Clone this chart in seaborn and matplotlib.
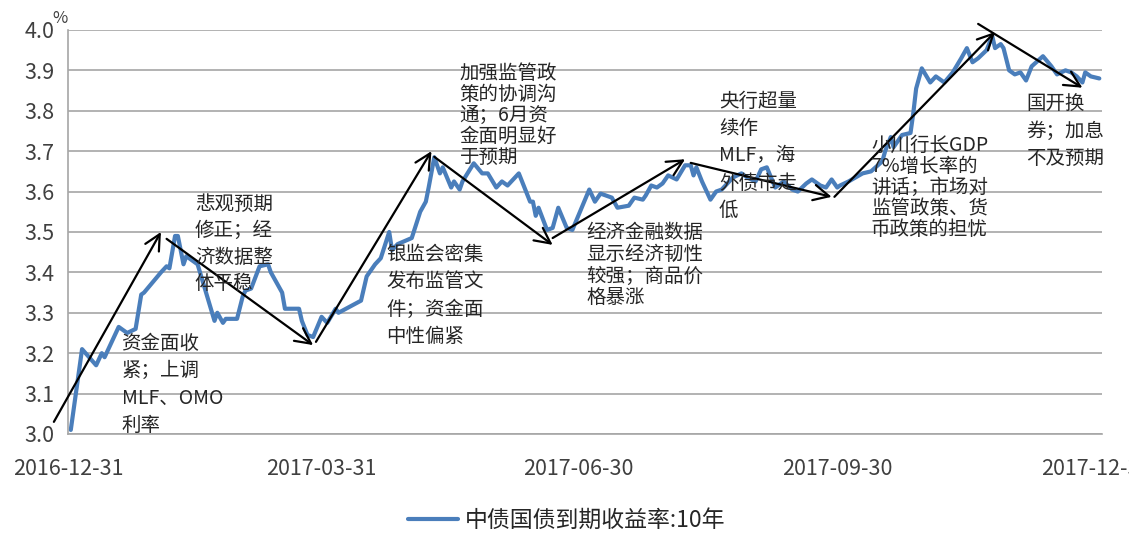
import pandas as pd
import numpy as np
import matplotlib
matplotlib.use('Agg')
import matplotlib.pyplot as plt
import matplotlib.dates as mdates
from matplotlib.ticker import MultipleLocator, FormatStrFormatter
import seaborn as sns

# 中债国债到期收益率:10年
dates = ['2017-01-01', '2017-01-05', '2017-01-10', '2017-01-12', '2017-01-13', '2017-01-18',
         '2017-01-21', '2017-01-24', '2017-01-26', '2017-01-27', '2017-02-02', '2017-02-04',
         '2017-02-05', '2017-02-07', '2017-02-08', '2017-02-10', '2017-02-11', '2017-02-15',
         '2017-02-18', '2017-02-21', '2017-02-22', '2017-02-24', '2017-02-25', '2017-03-01',
         '2017-03-03', '2017-03-04', '2017-03-06', '2017-03-09', '2017-03-12', '2017-03-13',
         '2017-03-17', '2017-03-18', '2017-03-23', '2017-03-24', '2017-03-26', '2017-03-28',
         '2017-03-31', '2017-04-02', '2017-04-05', '2017-04-06', '2017-04-10', '2017-04-14',
         '2017-04-16', '2017-04-19', '2017-04-21', '2017-04-24', '2017-04-25', '2017-04-27',
         '2017-05-02', '2017-05-05', '2017-05-07', '2017-05-08', '2017-05-10', '2017-05-12',
         '2017-05-13', '2017-05-16', '2017-05-17', '2017-05-19', '2017-05-20', '2017-05-24',
         '2017-05-27', '2017-05-29', '2017-06-01', '2017-06-03', '2017-06-05', '2017-06-09',
         '2017-06-13', '2017-06-14', '2017-06-15', '2017-06-16', '2017-06-19', '2017-06-21',
         '2017-06-23', '2017-06-26', '2017-06-28', '2017-07-01', '2017-07-04', '2017-07-06',
         '2017-07-08', '2017-07-12', '2017-07-14', '2017-07-18', '2017-07-20', '2017-07-23',
         '2017-07-24', '2017-07-26', '2017-07-28', '2017-07-30', '2017-08-01', '2017-08-04',
         '2017-08-07', '2017-08-09', '2017-08-10', '2017-08-11', '2017-08-13', '2017-08-16',
         '2017-08-18', '2017-08-20', '2017-08-24', '2017-08-27', '2017-08-29', '2017-09-01',
         '2017-09-03', '2017-09-05', '2017-09-08', '2017-09-11', '2017-09-14', '2017-09-16',
         '2017-09-19', '2017-09-21', '2017-09-24', '2017-09-26', '2017-09-28', '2017-09-30',
         '2017-10-01', '2017-10-04', '2017-10-09', '2017-10-12', '2017-10-16', '2017-10-17',
         '2017-10-19', '2017-10-20', '2017-10-23', '2017-10-26', '2017-10-27', '2017-10-28',
         '2017-10-30', '2017-11-02', '2017-11-04', '2017-11-07', '2017-11-10', '2017-11-13',
         '2017-11-15', '2017-11-17', '2017-11-19', '2017-11-22', '2017-11-24', '2017-11-25',
         '2017-11-27', '2017-11-28', '2017-11-30', '2017-12-02', '2017-12-04', '2017-12-06',
         '2017-12-08', '2017-12-12', '2017-12-15', '2017-12-17', '2017-12-20', '2017-12-22',
         '2017-12-24', '2017-12-26', '2017-12-27', '2017-12-29', '2018-01-01']
yields = [3.01, 3.21, 3.17, 3.20, 3.19, 3.265,
          3.25, 3.26, 3.345, 3.35, 3.40, 3.415,
          3.41, 3.49, 3.49, 3.42, 3.44, 3.42,
          3.35, 3.28, 3.30, 3.275, 3.285, 3.285,
          3.34, 3.355, 3.36, 3.415, 3.42, 3.40,
          3.35, 3.31, 3.31, 3.28, 3.245, 3.24,
          3.29, 3.275, 3.31, 3.30, 3.315, 3.33,
          3.39, 3.42, 3.435, 3.50, 3.455, 3.47,
          3.485, 3.55, 3.575, 3.61, 3.685, 3.645,
          3.66, 3.61, 3.625, 3.605, 3.625, 3.67,
          3.645, 3.645, 3.61, 3.625, 3.615, 3.645,
          3.575, 3.575, 3.54, 3.56, 3.505, 3.51,
          3.56, 3.51, 3.505, 3.555, 3.605, 3.575,
          3.595, 3.585, 3.56, 3.565, 3.585, 3.58,
          3.59, 3.615, 3.61, 3.62, 3.64, 3.63,
          3.665, 3.665, 3.64, 3.66, 3.625, 3.58,
          3.60, 3.605, 3.635, 3.645, 3.635, 3.625,
          3.655, 3.66, 3.61, 3.625, 3.605, 3.60,
          3.62, 3.63, 3.615, 3.61, 3.63, 3.61,
          3.615, 3.625, 3.645, 3.65, 3.675, 3.70,
          3.735, 3.71, 3.74, 3.745, 3.795, 3.855,
          3.905, 3.87, 3.885, 3.87, 3.895, 3.93,
          3.955, 3.92, 3.93, 3.95, 3.985, 3.955,
          3.965, 3.955, 3.90, 3.89, 3.895, 3.875,
          3.91, 3.935, 3.91, 3.89, 3.90, 3.895,
          3.885, 3.87, 3.895, 3.885, 3.88]

# trend arrows: (tail date, tail value, head date, head value)
arrow_tail_dates = ['2016-12-26', '2017-02-04', '2017-03-29', '2017-05-10',
                    '2017-06-21', '2017-08-09', '2017-09-29', '2017-11-19']
arrow_tail_vals = [3.03, 3.483, 3.228, 3.686, 3.485, 3.671, 3.587, 4.015]
arrow_head_dates = ['2017-02-02', '2017-03-28', '2017-05-09', '2017-06-21',
                    '2017-08-07', '2017-09-28', '2017-11-25', '2017-12-26']
arrow_head_vals = [3.50, 3.22, 3.70, 3.468, 3.68, 3.587, 3.995, 3.857]

notes = ['资金面收\n紧；上调\nMLF、OMO\n利率',
         '悲观预期\n修正；经\n济数据整\n体平稳',
         '银监会密集\n发布监管文\n件；资金面\n中性偏紧',
         '加强监管政\n策的协调沟\n通；6月资\n金面明显好\n于预期',
         '经济金融数据\n显示经济韧性\n较强；商品价\n格暴涨',
         '央行超量\n续作\nMLF，海\n外债市走\n低',
         '小川行长GDP\n7%增长率的\n讲话；市场对\n监管政策、货\n币政策的担忧',
         '国开换\n券；加息\n不及预期']
note_dates = ['2017-01-19', '2017-02-14', '2017-04-23', '2017-05-19',
              '2017-07-03', '2017-08-19', '2017-10-12', '2017-12-06']
note_vals = [3.25, 3.595, 3.47, 3.918, 3.525, 3.85, 3.74, 3.843]
note_spacing = [1.4, 1.35, 1.4, 1.0, 1.05, 1.4, 1.0, 1.4]

df = pd.DataFrame({'date': pd.to_datetime(dates), 'yield': yields})

sns.set_style('white')
plt.rcParams['font.family'] = ['Noto Sans CJK SC', 'DejaVu Sans']

fig = plt.figure(figsize=(11.29, 5.34), dpi=100)
ax = fig.add_axes([0.0602, 0.1873, 0.916, 0.7566])

sns.lineplot(data=df, x='date', y='yield', ax=ax, color='#4a7ebb', lw=3,
             label='中债国债到期收益率:10年')

ax.set_xlim(pd.Timestamp('2016-12-31'), pd.Timestamp('2018-01-02'))
ax.set_ylim(3.0, 4.0)
ax.yaxis.set_major_locator(MultipleLocator(0.1))
ax.yaxis.set_major_formatter(FormatStrFormatter('%.1f'))
ax.set_xticks(pd.to_datetime(['2016-12-31', '2017-03-31', '2017-06-30', '2017-09-30', '2017-12-31']))
ax.xaxis.set_major_formatter(mdates.DateFormatter('%Y-%m-%d'))
ax.set_xlabel('')
ax.set_ylabel('')

ax.grid(axis='y', color='#a6a6a6', lw=1.2)
ax.set_axisbelow(True)
for s in ['top', 'right']:
    ax.spines[s].set_visible(False)
for s in ['left', 'bottom']:
    ax.spines[s].set_color('#a6a6a6')
    ax.spines[s].set_linewidth(1.2)
ax.tick_params(axis='y', length=6, color='#a6a6a6', width=1.2, labelsize=15.5,
               labelcolor='#404040', pad=4)
ax.tick_params(axis='x', length=9, color='#a6a6a6', width=1.2, labelsize=15.5,
               labelcolor='#404040', pad=8)
fig.text(0.046, 0.966, '%', fontsize=12, color='#404040', ha='left', va='center')

for td, tv, hd, hv in zip(arrow_tail_dates, arrow_tail_vals, arrow_head_dates, arrow_head_vals):
    ax.annotate('', xy=(pd.Timestamp(hd), hv), xytext=(pd.Timestamp(td), tv),
                arrowprops=dict(arrowstyle='->', color='black', lw=1.6,
                                mutation_scale=28, shrinkA=0, shrinkB=0),
                annotation_clip=False)

for txt, d, v, sp in zip(notes, note_dates, note_vals, note_spacing):
    ax.text(pd.Timestamp(d), v, txt, fontsize=14, color='#262626', ha='left', va='top',
            linespacing=sp)

ax.legend_.remove()
h, l = ax.get_legend_handles_labels()
fig.legend(h, l, loc='center', bbox_to_anchor=(0.502, 0.026), frameon=False,
           fontsize=16.5, handlelength=2.2, handletextpad=0.3)

fig.savefig('out.png', dpi=100)
